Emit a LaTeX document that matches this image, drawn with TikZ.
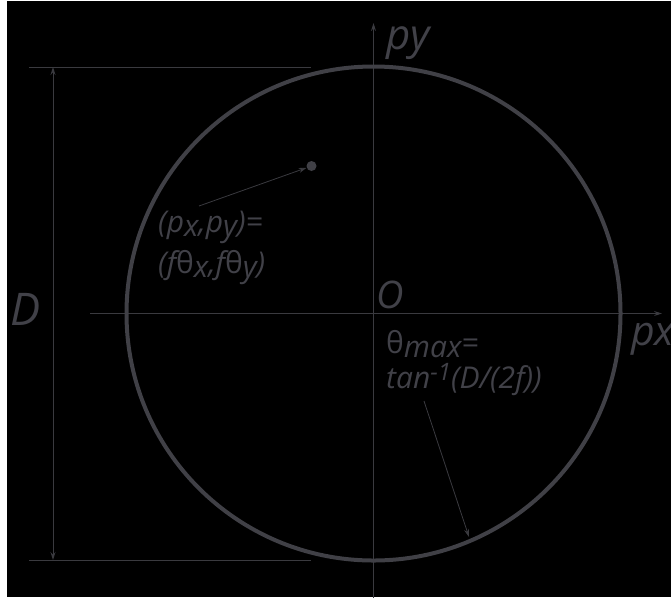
\documentclass[tikz,border=0pt]{standalone}
\usepackage{fontspec}
\setmainfont{Open Sans}
\usetikzlibrary{arrows.meta}
\definecolor{linec}{HTML}{3A3A3F}
\definecolor{circc}{HTML}{404046}
\definecolor{textc}{HTML}{414148}
\newcommand\lowr[1]{\raisebox{-0.3ex}{#1}}
\newcommand\upr[1]{\raisebox{0.45ex}{\fontsize{24}{24}\selectfont #1}}
\tikzset{
  thinline/.style={draw=linec, line width=1pt},
  tip/.style={-{Stealth[length=8pt,width=5pt]}},
  lbl/.style={text=textc, inner sep=0pt, anchor=base west},
}
\begin{document}
\begin{tikzpicture}[x=1pt,y=-1pt]
\useasboundingbox (0,0) rectangle (671,598);
\fill[white] (0,0) rectangle (671,598);
\fill[black] (7,1) rectangle (671,597);
% dimension lines
\coordinate (tl) at (29,67);
\coordinate (tr) at (311,67);
\coordinate (bl) at (29,560);
\coordinate (br) at (311,560);
\coordinate (dtop) at (53,67);
\coordinate (dbot) at (53,560);
\draw[thinline] (tl) -- (tr);
\draw[thinline] (bl) -- (br);
\draw[thinline, {Stealth[length=8pt,width=5pt]}-{Stealth[length=8pt,width=5pt]}] (dtop) -- (dbot);
% axes
\coordinate (xs) at (90,313.5);
\coordinate (xe) at (662,313.5);
\coordinate (ys) at (373.5,598);
\coordinate (ye) at (373.5,23);
\draw[thinline, tip] (xs) -- (xe);
\draw[thinline, tip] (ys) -- (ye);
% circle
\node[draw=circc, line width=4pt, circle, minimum size=494pt, inner sep=0pt] (circ) at (373.5,313.5) {};
% point
\node[fill=circc, circle, minimum size=10pt, inner sep=0pt] (pt) at (311.5,166) {};
% labels
\node[lbl, font=\fontsize{42}{42}\selectfont\itshape] (py) at (386,49) {py};
\node[lbl, font=\fontsize{41}{41}\selectfont\itshape] (px) at (631,345) {px};
\node[lbl, font=\fontsize{45}{45}\selectfont\itshape] (D) at (10,325) {D};
\node[lbl, font=\fontsize{38}{38}\selectfont\itshape] (O) at (376,308) {O};
\node[lbl, align=left, font=\fontsize{30}{41}\selectfont\itshape] (plbl) at (158,273)
  {(p\lowr{x},p\lowr{y})=\\(f{\upshape θ}\lowr{x},f{\upshape θ}\lowr{y})};
\node[lbl, align=left, font=\fontsize{30}{35}\selectfont\itshape] (tlbl) at (386,388)
  {{\upshape θ}\lowr{max}=\\tan\upr{-1}(D/(2f))};
% pointer arrows
\coordinate (pa) at (199,206);
\coordinate (ta) at (424,401);
\coordinate (tb) at (469,537);
\draw[thinline, line width=0.8pt, tip] (pa) -- (pt);
\draw[thinline, line width=0.8pt, tip] (ta) -- (tb);
\end{tikzpicture}
\end{document}
